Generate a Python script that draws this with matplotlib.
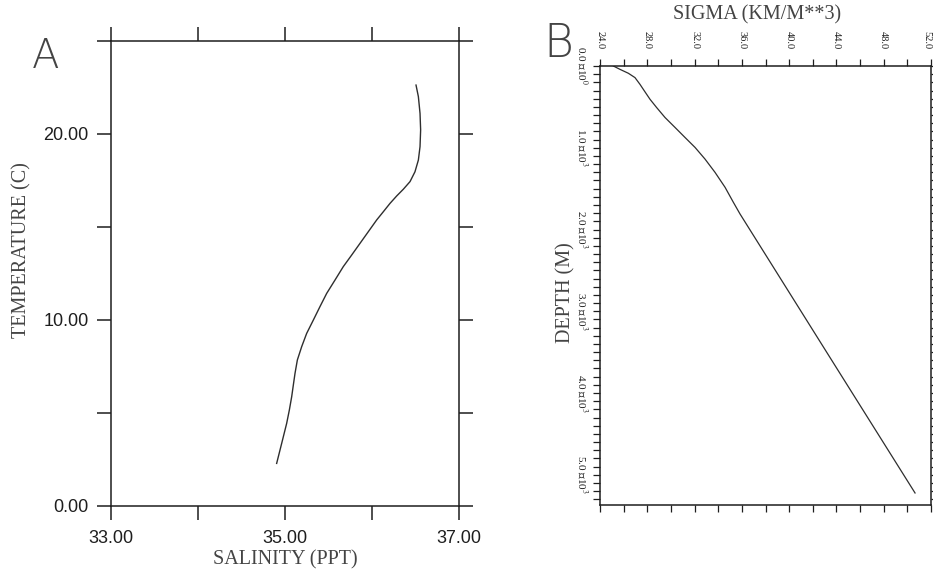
import matplotlib
matplotlib.use("Agg")
import matplotlib.pyplot as plt
import numpy as np

# ---- panel A : T-S curve ----
salinity = [34.904, 34.962, 35.019, 35.050, 35.077, 35.096, 35.115, 35.142,
            35.192, 35.249, 35.326, 35.402, 35.479, 35.575, 35.670, 35.766,
            35.862, 35.958, 36.054, 36.130, 36.207, 36.284, 36.360, 36.437,
            36.494, 36.533, 36.552, 36.559, 36.552, 36.533, 36.506]
temperature = [2.29, 3.37, 4.44, 5.16, 5.88, 6.51, 7.13, 7.85, 8.57, 9.28,
               10.00, 10.72, 11.43, 12.15, 12.87, 13.49, 14.12, 14.75, 15.38,
               15.82, 16.27, 16.67, 17.03, 17.44, 17.97, 18.60, 19.32, 20.22,
               21.11, 22.01, 22.63]
sal_ticks = [33, 34, 35, 36, 37]
sal_labels = ['33.00', '', '35.00', '', '37.00']
temp_ticks = [0, 5, 10, 15, 20, 25]
temp_labels = ['0.00', '', '10.00', '', '20.00', '']

# ---- panel B : sigma vs depth ----
sigma = [25.13, 25.69, 26.40, 26.96, 27.38, 27.81, 28.23, 28.79, 29.50,
         30.35, 31.19, 32.04, 32.88, 33.73, 34.58, 35.28, 35.84, 43.24, 50.65]
depth = [0, 41, 89, 142, 224, 317, 407, 508, 630, 752, 874, 996, 1138, 1301,
         1484, 1667, 1809, 3516, 5223]
sigma_ticks = np.arange(24, 52.1, 2)
depth_ticks = np.arange(0, 5301, 100)

plt.rcParams['mathtext.fontset'] = 'stix'
serif = 'Liberation Serif'
sans = 'Liberation Sans'
ink = '#1e1e1e'
line = '#2e2e2e'

fig = plt.figure(figsize=(9.33, 5.72), dpi=100)

# =========================== A ===========================
axA = fig.add_axes([111/933, 66/572, 348/933, 465/572])
axA.plot(salinity, temperature, color=line, lw=1.0, solid_joinstyle='round')
axA.set_xlim(33, 37)
axA.set_ylim(0, 25)
axA.set_xticks(sal_ticks)
axA.set_xticklabels(sal_labels, fontfamily=sans, fontsize=13, color=ink)
axA.set_yticks(temp_ticks)
axA.set_yticklabels(temp_labels, fontfamily=sans, fontsize=13, color=ink)
axA.tick_params(direction='out', length=10, width=1.1, color=ink,
                top=True, right=True, labeltop=False, labelright=False)
axA.tick_params(axis='x', pad=7)
axA.tick_params(axis='y', pad=6)
for s in axA.spines.values():
    s.set_linewidth(1.1)
    s.set_color(ink)
fig.text(285/933, 1 - 560/572, 'SALINITY (PPT)', family=serif, fontsize=14.5,
         color='#444444', ha='center', va='center')
fig.text(22/933, 1 - 250/572, 'TEMPERATURE (C)', family=serif, fontsize=14.5,
         color='#444444', ha='center', va='center', rotation=90)
fig.text(46/933, 1 - 57/572, 'A', family='DejaVu Sans', fontweight='light',
         fontsize=29, color='#444444', ha='center', va='center')

# =========================== B ===========================
axB = fig.add_axes([600/933, 67/572, 331/933, 439/572])
axB.plot(sigma, depth, color=line, lw=0.9, solid_joinstyle='round')
axB.set_xlim(24, 52)
axB.set_ylim(5370, 0)
axB.xaxis.set_ticks_position('both')
axB.set_xticks(sigma_ticks)
axB.set_xticklabels([f'{v:.1f}' if (v - 24) % 4 == 0 else '' for v in sigma_ticks],
                    fontfamily=serif, fontsize=7.5, color=ink, rotation=270)
axB.set_yticks(depth_ticks)
axB.set_yticklabels([f'{v/1000:.1f} ∗10$^{{{0 if v == 0 else 3}}}$' if v % 1000 == 0 else ''
                     for v in depth_ticks],
                    fontfamily=serif, fontsize=8, color=ink, rotation=270, va='center')
axB.tick_params(direction='out', length=5, width=0.9, color=ink,
                top=True, bottom=True, right=True, left=True,
                labeltop=True, labelbottom=False, labelright=False)
axB.tick_params(axis='x', pad=7)
axB.tick_params(axis='y', pad=3)
# last top label sits at the figure edge: keep it inside
axB.xaxis.get_major_ticks()[-1].label2.set_horizontalalignment('right')
for s in axB.spines.values():
    s.set_linewidth(1.1)
    s.set_color(ink)
fig.text(757/933, 1 - 15/572, 'SIGMA (KM/M**3)', family=serif, fontsize=14.5,
         color='#444444', ha='center', va='center')
fig.text(566/933, 1 - 293/572, 'DEPTH (M)', family=serif, fontsize=14.5,
         color='#444444', ha='center', va='center', rotation=90)
fig.text(558/933, 1 - 44/572, 'B', family='DejaVu Sans', fontweight='light',
         fontsize=33, color='#444444', ha='center', va='center')

fig.savefig('out.png', dpi=100)
